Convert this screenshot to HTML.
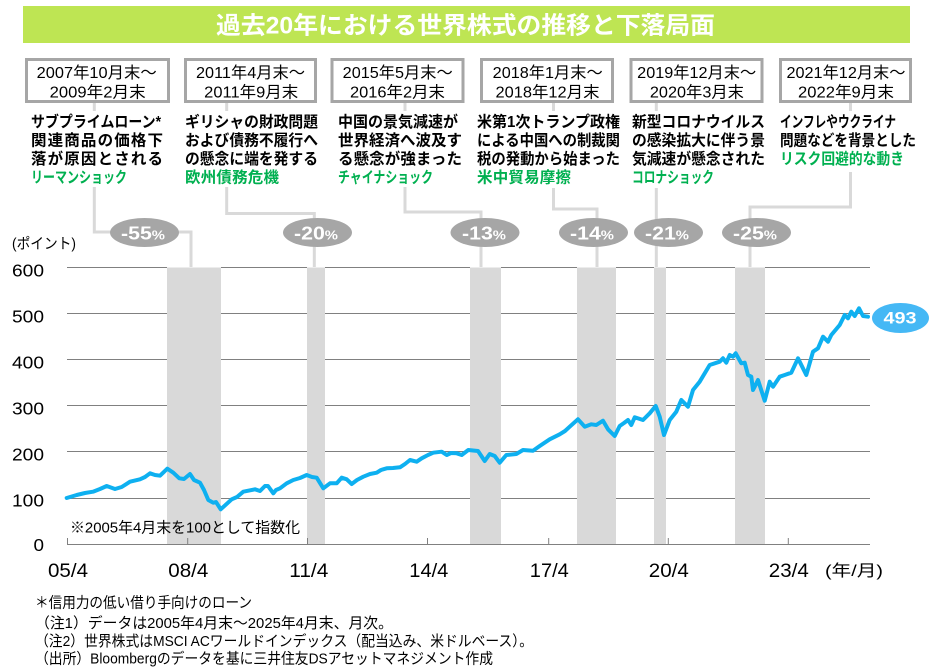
<!DOCTYPE html>
<html><head><meta charset="utf-8">
<style>
html,body{margin:0;padding:0;background:#fff;}
svg{display:block;}
.j{font-family:"Liberation Sans","Noto Sans CJK JP",sans-serif;}
.b{font-weight:bold;}
</style></head>
<body>
<svg width="933" height="670" viewBox="0 0 933 670" xmlns="http://www.w3.org/2000/svg">
<rect x="0" y="0" width="933" height="670" fill="#fff"/>
<!-- title -->
<rect x="23" y="6" width="887" height="37" fill="#bee553"/>
<text class="j b" x="465.5" y="33.5" font-size="24" fill="#fff" text-anchor="middle" textLength="499" lengthAdjust="spacingAndGlyphs">過去20年における世界株式の推移と下落局面</text>

<!-- boxes -->
<g fill="#fff" stroke="#a6a6a6" stroke-width="3">
<rect x="26.5" y="59.5" width="142" height="42"/>
<rect x="185.5" y="59.5" width="130" height="42"/>
<rect x="332" y="59.5" width="131" height="42"/>
<rect x="481.5" y="59.5" width="131" height="42"/>
<rect x="631" y="59.5" width="131" height="42"/>
<rect x="780.5" y="59.5" width="130" height="42"/>
</g>
<g class="j" font-size="16" fill="#000" text-anchor="middle" lengthAdjust="spacingAndGlyphs">
<text x="96.7" y="78.2" textLength="120" lengthAdjust="spacingAndGlyphs">2007年10月末～</text>
<text x="97.7" y="97.3" textLength="96" lengthAdjust="spacingAndGlyphs">2009年2月末</text>
<text x="250.5" y="78.2" textLength="109" lengthAdjust="spacingAndGlyphs">2011年4月末～</text>
<text x="251.2" y="97.3" textLength="94" lengthAdjust="spacingAndGlyphs">2011年9月末</text>
<text x="397.7" y="78.2" textLength="110" lengthAdjust="spacingAndGlyphs">2015年5月末～</text>
<text x="397.5" y="97.3" textLength="95" lengthAdjust="spacingAndGlyphs">2016年2月末</text>
<text x="547.7" y="78.2" textLength="110" lengthAdjust="spacingAndGlyphs">2018年1月末～</text>
<text x="547.5" y="97.3" textLength="104" lengthAdjust="spacingAndGlyphs">2018年12月末</text>
<text x="696.7" y="78.2" textLength="119" lengthAdjust="spacingAndGlyphs">2019年12月末～</text>
<text x="696.9" y="97.3" textLength="94" lengthAdjust="spacingAndGlyphs">2020年3月末</text>
<text x="846" y="78.2" textLength="119" lengthAdjust="spacingAndGlyphs">2021年12月末～</text>
<text x="846" y="97.3" textLength="96" lengthAdjust="spacingAndGlyphs">2022年9月末</text>
</g>

<!-- shaded bars -->
<g fill="#d9d9d9">
<rect x="167" y="267.5" width="54" height="277"/>
<rect x="307" y="267.5" width="18" height="277"/>
<rect x="470" y="267.5" width="31" height="277"/>
<rect x="577" y="267.5" width="39" height="277"/>
<rect x="654" y="267.5" width="12" height="277"/>
<rect x="735" y="267.5" width="30" height="277"/>
</g>

<!-- connectors -->
<g fill="none" stroke="#d9d9d9" stroke-width="3">
<path d="M94.3 103V111M94.3 187V232H191V267"/>
<path d="M226.7 103V111M226.7 187V213.5H314.3V267"/>
<path d="M405 103V111M405 187V212H481V267"/>
<path d="M553.5 103V111M553.5 188V209H597V267"/>
<path d="M656.3 103V111M656.3 188V267"/>
<path d="M850.5 103V111M850.5 172V207H750V267"/>
</g>

<!-- descriptions -->
<g class="j b" font-size="15.5" fill="#000">
<text x="31" y="127.2" textLength="130" lengthAdjust="spacingAndGlyphs">サブプライムローン*</text>
<text x="31" y="145.6" textLength="132" lengthAdjust="spacing">関連商品の価格下</text>
<text x="31" y="164" textLength="132" lengthAdjust="spacing">落が原因とされる</text>
<text x="31" y="182.6" textLength="96" lengthAdjust="spacingAndGlyphs" fill="#00b050">リーマンショック</text>

<text x="185" y="127.2" textLength="133" lengthAdjust="spacingAndGlyphs">ギリシャの財政問題</text>
<text x="185" y="145.6" textLength="133" lengthAdjust="spacingAndGlyphs">および債務不履行へ</text>
<text x="185" y="164" textLength="133" lengthAdjust="spacingAndGlyphs">の懸念に端を発する</text>
<text x="185" y="182.6" textLength="94" lengthAdjust="spacing" fill="#00b050">欧州債務危機</text>

<text x="338" y="127.2" textLength="120" lengthAdjust="spacingAndGlyphs">中国の景気減速が</text>
<text x="338" y="145.6" textLength="124" lengthAdjust="spacing">世界経済へ波及す</text>
<text x="338" y="164" textLength="124" lengthAdjust="spacing">る懸念が強まった</text>
<text x="338" y="182.6" textLength="95" lengthAdjust="spacingAndGlyphs" fill="#00b050">チャイナショック</text>

<text x="477" y="127.2" textLength="143" lengthAdjust="spacingAndGlyphs">米第1次トランプ政権</text>
<text x="477" y="145.6" textLength="143" lengthAdjust="spacingAndGlyphs">による中国への制裁関</text>
<text x="477" y="164" textLength="143" lengthAdjust="spacingAndGlyphs">税の発動から始まった</text>
<text x="477" y="182.6" textLength="94" lengthAdjust="spacing" fill="#00b050">米中貿易摩擦</text>

<text x="632" y="127.2" textLength="133" lengthAdjust="spacingAndGlyphs">新型コロナウイルス</text>
<text x="632" y="145.6" textLength="133" lengthAdjust="spacingAndGlyphs">の感染拡大に伴う景</text>
<text x="632" y="164" textLength="133" lengthAdjust="spacingAndGlyphs">気減速が懸念された</text>
<text x="632" y="182.6" textLength="82" lengthAdjust="spacingAndGlyphs" fill="#00b050">コロナショック</text>

<text x="780" y="127.2" textLength="116" lengthAdjust="spacingAndGlyphs">インフレやウクライナ</text>
<text x="780" y="145.6" textLength="136" lengthAdjust="spacingAndGlyphs">問題などを背景とした</text>
<text x="780" y="164" textLength="124" lengthAdjust="spacingAndGlyphs" fill="#00b050">リスク回避的な動き</text>
</g>

<!-- drop labels -->
<g fill="#a6a6a6">
<ellipse cx="144.5" cy="232.5" rx="34.5" ry="14.5"/>
<ellipse cx="317.5" cy="232.5" rx="34.5" ry="14.5"/>
<ellipse cx="485" cy="232.5" rx="34.5" ry="14.5"/>
<ellipse cx="593.5" cy="232.5" rx="34.5" ry="14.5"/>
<ellipse cx="668.5" cy="232.5" rx="34.5" ry="14.5"/>
<ellipse cx="756.5" cy="232.5" rx="34.5" ry="14.5"/>
</g>
<g class="j b" fill="#fff" text-anchor="middle">
<text x="143" y="239.5" textLength="44" lengthAdjust="spacingAndGlyphs"><tspan font-size="18">-55</tspan><tspan font-size="12.5">%</tspan></text>
<text x="316" y="239.5" textLength="44" lengthAdjust="spacingAndGlyphs"><tspan font-size="18">-20</tspan><tspan font-size="12.5">%</tspan></text>
<text x="484" y="239.5" textLength="44" lengthAdjust="spacingAndGlyphs"><tspan font-size="18">-13</tspan><tspan font-size="12.5">%</tspan></text>
<text x="592" y="239.5" textLength="44" lengthAdjust="spacingAndGlyphs"><tspan font-size="18">-14</tspan><tspan font-size="12.5">%</tspan></text>
<text x="667" y="239.5" textLength="44" lengthAdjust="spacingAndGlyphs"><tspan font-size="18">-21</tspan><tspan font-size="12.5">%</tspan></text>
<text x="755" y="239.5" textLength="44" lengthAdjust="spacingAndGlyphs"><tspan font-size="18">-25</tspan><tspan font-size="12.5">%</tspan></text>
</g>

<!-- gridlines (drawn around bars) -->
<g stroke="#808080" stroke-width="1">
<path d="M67 267.5H167M221 267.5H307M325 267.5H470M501 267.5H577M616 267.5H654M666 267.5H735M765 267.5H870"/>
<path d="M67 313.5H167M221 313.5H307M325 313.5H470M501 313.5H577M616 313.5H654M666 313.5H735M765 313.5H870"/>
<path d="M67 359.5H167M221 359.5H307M325 359.5H470M501 359.5H577M616 359.5H654M666 359.5H735M765 359.5H870"/>
<path d="M67 405.5H167M221 405.5H307M325 405.5H470M501 405.5H577M616 405.5H654M666 405.5H735M765 405.5H870"/>
<path d="M67 451.5H167M221 451.5H307M325 451.5H470M501 451.5H577M616 451.5H654M666 451.5H735M765 451.5H870"/>
<path d="M67 498.5H167M221 498.5H307M325 498.5H470M501 498.5H577M616 498.5H654M666 498.5H735M765 498.5H870"/>
<path d="M67 544.5H870"/>
<path d="M67.5 538V545M187.7 538V545M307.5 538V545M427.5 538V545M548.7 538V545M668.3 538V545M788.3 538V545"/>
</g>

<!-- axis labels -->
<g class="j" font-size="17.5" fill="#000" text-anchor="end">
<text x="44" y="276.6" textLength="32" lengthAdjust="spacingAndGlyphs">600</text>
<text x="44" y="322.6" textLength="32" lengthAdjust="spacingAndGlyphs">500</text>
<text x="44" y="368.6" textLength="32" lengthAdjust="spacingAndGlyphs">400</text>
<text x="44" y="414.6" textLength="32" lengthAdjust="spacingAndGlyphs">300</text>
<text x="44" y="460.6" textLength="32" lengthAdjust="spacingAndGlyphs">200</text>
<text x="44" y="506.6" textLength="32" lengthAdjust="spacingAndGlyphs">100</text>
<text x="44" y="551" textLength="10.5" lengthAdjust="spacingAndGlyphs">0</text>
</g>
<g class="j" font-size="19" fill="#000" text-anchor="middle">
<text x="68" y="577" textLength="40" lengthAdjust="spacingAndGlyphs">05/4</text>
<text x="188.3" y="577" textLength="40" lengthAdjust="spacingAndGlyphs">08/4</text>
<text x="308.8" y="577" textLength="39" lengthAdjust="spacingAndGlyphs">11/4</text>
<text x="428.8" y="577" textLength="39" lengthAdjust="spacingAndGlyphs">14/4</text>
<text x="549.3" y="577" textLength="39" lengthAdjust="spacingAndGlyphs">17/4</text>
<text x="668.8" y="577" textLength="40" lengthAdjust="spacingAndGlyphs">20/4</text>
<text x="788.8" y="577" textLength="40" lengthAdjust="spacingAndGlyphs">23/4</text>
</g>
<text class="j" x="825" y="576" font-size="16" fill="#000" textLength="58" lengthAdjust="spacingAndGlyphs">(年/月)</text>
<text class="j" x="12" y="248.5" font-size="15" fill="#000" textLength="64" lengthAdjust="spacingAndGlyphs">(ポイント)</text>
<text class="j" x="70" y="532.5" font-size="15" fill="#000" textLength="230" lengthAdjust="spacingAndGlyphs">※2005年4月末を100として指数化</text>

<!-- series -->
<polyline fill="none" stroke="#0eb0f0" stroke-width="4" stroke-linejoin="round" stroke-linecap="round" points="
66.7,498 76.7,495 85,493 93,491.7 100,489 106.7,486 115,489 121.7,487 130,481.7 140,479.3 145,477 150,473.3 155,475 160,475.7 167.3,468.7 173.3,472.7 179.3,478.3 184,479 190,474 194,480 200,482.7 204,490 208.3,500 213.3,502.7 216,502 220.7,509.3 231.7,499.3 237,497 243.3,491.7 255,489.3 260,491 265,486 268,486 273.3,493.3 276,490 280,488.3 286.7,483.3 293.3,480 300,478 306.7,475 312,477 316.7,477.7 323.3,488.3 330,483.3 336.7,483.3 341.7,477.7 346.7,479.3 351.7,484 357,480 363.3,476.7 370,474 376.7,472.7 381,470 386.7,468.3 393,468 400,467.3 405,464 410,460 416.7,461.7 421.7,458.3 428,455 433.3,452.7 441.7,451.7 446.7,455 451,453 456.7,453.3 461.7,455 468.3,450 478,451 484.7,461 489.7,454 494.7,456 499.7,462.7 506.3,455 516.3,454 523,450 533,450.7 539.7,446 549.7,439.3 559.7,434.3 565,431 569.7,426.7 578,419.3 584.7,426.7 591.3,424.3 596.3,425 603,420.7 608,429.3 614.7,436 619.7,426 624,423 628,420 631.3,425 634.7,417.3 643,420 649.7,413.3 655.7,406 659.7,416.7 664,435 669.7,420 676.3,411.7 681.3,400 688,406.7 693,390 699.7,381.7 709.7,365 719.7,361.7 723,358.3 726.3,362.7 729.7,355 733,356.7 735.7,353.3 741.3,363.3 744.7,362.7 748,375 751.3,376.7 753,390 754.7,386.7 758,380 764.7,400.7 769.7,381.7 773,386.7 779.7,376.7 784.7,375 791.3,372.7 798,358.3 806.3,375 813,351.7 818,348.3 823,336.7 828,341.7 831.3,335 839.7,325 844.7,315 848,318.3 851.3,311.7 854.7,316 859,308.3 863,316 868,316.7"/>

<!-- end label -->
<ellipse cx="900.5" cy="318" rx="28.5" ry="15" fill="#45b8f5"/>
<text class="j b" x="900" y="323.7" font-size="17" fill="#fff" text-anchor="middle" textLength="33" lengthAdjust="spacingAndGlyphs">493</text>

<!-- notes -->
<g class="j" font-size="15" fill="#000">
<text x="35" y="607.5" textLength="217" lengthAdjust="spacingAndGlyphs">＊信用力の低い借り手向けのローン</text>
<text x="35" y="628" textLength="358" lengthAdjust="spacingAndGlyphs">（注1）データは2005年4月末～2025年4月末、月次。</text>
<text x="35" y="646" textLength="498" lengthAdjust="spacingAndGlyphs">（注2）世界株式はMSCI ACワールドインデックス（配当込み、米ドルベース）。</text>
<text x="35" y="663.5" textLength="458" lengthAdjust="spacingAndGlyphs">（出所）Bloombergのデータを基に三井住友DSアセットマネジメント作成</text>
</g>
</svg>
</body></html>
